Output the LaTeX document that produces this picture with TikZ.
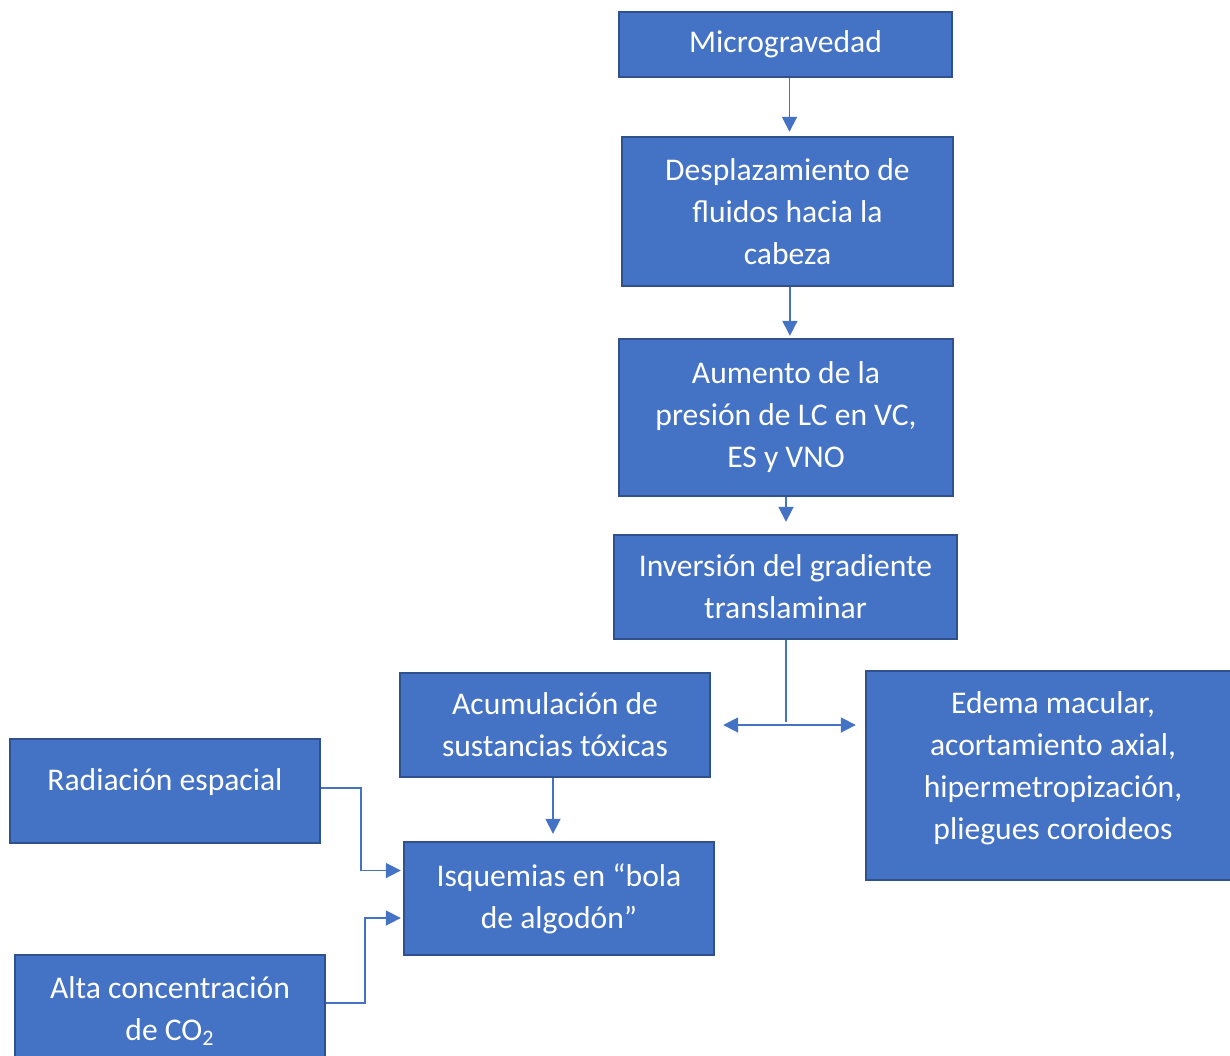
\documentclass[tikz,border=0pt]{standalone}
\usepackage{fontspec}
\setmainfont{Carlito}
\usetikzlibrary{arrows.meta}
\usetikzlibrary{positioning}
\definecolor{azul}{HTML}{4472C4}
\definecolor{borde}{HTML}{2F528F}
\tikzset{
caja/.style={draw=borde, line width=1.2pt, fill=azul, text=white, align=center,
  inner sep=0pt, font=\fontsize{15.8}{21}\selectfont},
flecha/.style={draw=azul, line width=0.9pt, -{Triangle[length=7.5pt,width=7.5pt]}},
linea/.style={draw=azul, line width=0.9pt}
}
\begin{document}
\begin{tikzpicture}[x=0.5pt,y=-0.5pt]
\useasboundingbox (0,0) rectangle (1230,1055);
\node[caja, minimum width=166.5pt, minimum height=32.5pt] (micro) at (785.5,44.5) {Microgravedad};
\node[caja, minimum width=165.5pt, minimum height=74.5pt] (despl) at (787.5,211.5) {Desplazamiento de\\fluidos hacia la\\cabeza};
\node[caja, minimum width=167pt, minimum height=78.5pt] (aumento) at (786,417.5) {Aumento de la\\presión de LC en VC,\\ES y VNO};
\node[caja, minimum width=171.5pt, minimum height=52pt] (inversion) at (785.5,587) {Inversión del gradiente\\translaminar};
\node[caja, minimum width=155pt, minimum height=52pt] (acum) at (555,725) {Acumulación de\\sustancias tóxicas};
\node[caja, minimum width=187pt, minimum height=104.5pt] (edema) at (1053,775.5) {Edema macular,\\acortamiento axial,\\hipermetropización,\\pliegues coroideos\\[-11pt]\mbox{}};
\node[caja, minimum width=155pt, minimum height=52pt] (radiacion) at (165,791) {Radiación espacial\\[-10pt]\mbox{}};
\node[caja, minimum width=155pt, minimum height=56.5pt] (isquemia) at (559,898.5) {Isquemias en “bola\\de algodón”};
\node[caja, minimum width=155pt, minimum height=56pt] (co2) at (170,1011) {Alta concentración\\de CO\textsubscript{2}};
\coordinate (rama) at (786,725);

\draw[flecha, shorten >=2pt] ([xshift=2pt]micro.south) -- ([xshift=2pt]micro.south |- despl.north);
\draw[flecha, shorten >=1pt] ([xshift=1.2pt]despl.south) -- ([xshift=1.2pt]despl.south |- aumento.north);
\draw[flecha, shorten >=6pt] (aumento.south) -- (aumento.south |- inversion.north);
\draw[linea] (inversion.south -| rama) -- ([yshift=1.5pt]rama);
\draw[flecha, {Triangle[length=7.5pt,width=7.5pt]}-{Triangle[length=7.5pt,width=7.5pt]}, shorten <=6pt, shorten >=4.5pt] (acum.east |- rama) -- (edema.west |- rama);
\draw[flecha, shorten >=3.5pt] ([xshift=-1pt]acum.south) -- ([xshift=-1pt]acum.south |- isquemia.north);
\draw[flecha, shorten >=1pt] ([yshift=1.5pt]radiacion.east) -- ++(20pt,0) |- ([yshift=14pt]isquemia.west);
\draw[flecha, shorten >=1pt] ([yshift=4pt]co2.east) -- ++(19.5pt,0) |- ([yshift=-9.75pt]isquemia.west);
\end{tikzpicture}
\end{document}
